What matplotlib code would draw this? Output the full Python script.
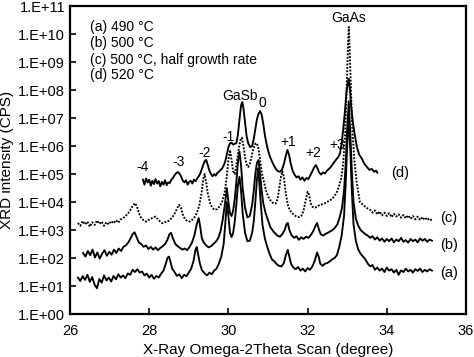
import matplotlib
matplotlib.use("Agg")
import math
import matplotlib.pyplot as plt
from matplotlib.ticker import FixedLocator, FuncFormatter

plt.rcParams['font.family'] = ['Liberation Sans', 'DejaVu Sans']

# scan angle (degree), log10 intensity (CPS)
curve_a = [
    (26.20, 1.30), (26.26, 1.18), (26.32, 1.35), (26.38, 1.22), (26.44, 1.40), (26.50, 1.15),
    (26.56, 1.32), (26.62, 1.05), (26.68, 0.92), (26.74, 1.25), (26.80, 1.12), (26.86, 1.38),
    (26.92, 1.20), (26.98, 1.30), (27.04, 1.16), (27.10, 1.36), (27.16, 1.24), (27.22, 1.42),
    (27.28, 1.30), (27.34, 1.38), (27.40, 1.28), (27.46, 1.45), (27.52, 1.40), (27.58, 1.58),
    (27.64, 1.50), (27.70, 1.60), (27.76, 1.48), (27.82, 1.52), (27.88, 1.38), (27.94, 1.44),
    (28.00, 1.30), (28.06, 1.40), (28.12, 1.26), (28.18, 1.36), (28.24, 1.30), (28.30, 1.44),
    (28.36, 1.55), (28.42, 1.80), (28.46, 2.00), (28.50, 2.05), (28.54, 1.85), (28.58, 1.62),
    (28.64, 1.50), (28.70, 1.36), (28.76, 1.42), (28.82, 1.28), (28.88, 1.40), (28.94, 1.35),
    (29.00, 1.48), (29.06, 1.62), (29.12, 1.90), (29.17, 2.30), (29.20, 2.39), (29.24, 2.10),
    (29.28, 1.80), (29.33, 1.57), (29.40, 1.45), (29.46, 1.38), (29.52, 1.48), (29.58, 1.42),
    (29.64, 1.55), (29.70, 1.62), (29.76, 1.80), (29.82, 2.05), (29.88, 2.50), (29.92, 3.20),
    (29.96, 4.00), (30.00, 3.50), (30.04, 2.90), (30.08, 2.75), (30.12, 2.90), (30.16, 3.30),
    (30.20, 3.90), (30.24, 4.60), (30.28, 4.90), (30.32, 4.40), (30.36, 3.60), (30.42, 2.90),
    (30.48, 2.60), (30.54, 2.62), (30.60, 2.90), (30.64, 3.30), (30.68, 4.00), (30.72, 4.80),
    (30.75, 5.20), (30.78, 4.70), (30.82, 3.90), (30.86, 3.20), (30.92, 2.70), (30.98, 2.40),
    (31.04, 2.15), (31.10, 1.95), (31.16, 1.88), (31.22, 1.78), (31.28, 1.72), (31.34, 1.70),
    (31.40, 1.82), (31.45, 2.10), (31.50, 2.29), (31.54, 2.05), (31.58, 1.80), (31.64, 1.66),
    (31.70, 1.60), (31.76, 1.68), (31.82, 1.55), (31.88, 1.62), (31.94, 1.52), (32.00, 1.64),
    (32.06, 1.58), (32.12, 1.70), (32.18, 1.90), (32.24, 2.20), (32.28, 2.05), (32.32, 1.80),
    (32.38, 1.72), (32.44, 1.80), (32.50, 1.82), (32.56, 1.88), (32.62, 1.95), (32.68, 2.00),
    (32.74, 2.10), (32.80, 2.40), (32.86, 2.80), (32.92, 3.50), (32.96, 4.60), (33.00, 6.00),
    (33.04, 7.00), (33.08, 5.80), (33.12, 4.30), (33.16, 3.20), (33.22, 2.60), (33.28, 2.30),
    (33.34, 2.15), (33.40, 2.05), (33.46, 1.95), (33.52, 1.80), (33.58, 1.70), (33.64, 1.75),
    (33.70, 1.58), (33.76, 1.66), (33.82, 1.55), (33.88, 1.62), (33.94, 1.50), (34.00, 1.66),
    (34.06, 1.55), (34.12, 1.60), (34.18, 1.48), (34.24, 1.58), (34.30, 1.40), (34.36, 1.56),
    (34.42, 1.50), (34.48, 1.62), (34.54, 1.52), (34.60, 1.58), (34.66, 1.48), (34.72, 1.60),
    (34.78, 1.54), (34.84, 1.62), (34.90, 1.50), (34.96, 1.58), (35.02, 1.52), (35.08, 1.60),
    (35.14, 1.55),
]

curve_b = [
    (26.33, 2.18), (26.39, 2.05), (26.45, 2.25), (26.51, 2.10), (26.57, 2.30), (26.63, 2.02),
    (26.69, 2.20), (26.75, 1.98), (26.81, 2.15), (26.87, 2.28), (26.93, 2.08), (26.99, 2.22),
    (27.05, 2.12), (27.11, 2.30), (27.17, 2.18), (27.23, 2.34), (27.29, 2.25), (27.35, 2.40),
    (27.41, 2.45), (27.47, 2.55), (27.53, 2.70), (27.58, 2.85), (27.63, 2.92), (27.68, 2.75),
    (27.74, 2.55), (27.80, 2.50), (27.86, 2.40), (27.92, 2.45), (27.98, 2.32), (28.04, 2.40),
    (28.10, 2.30), (28.16, 2.38), (28.22, 2.28), (28.28, 2.36), (28.34, 2.42), (28.40, 2.50),
    (28.46, 2.65), (28.51, 2.85), (28.55, 2.90), (28.60, 2.70), (28.66, 2.50), (28.72, 2.42),
    (28.78, 2.36), (28.84, 2.30), (28.90, 2.34), (28.96, 2.28), (29.02, 2.40), (29.08, 2.55),
    (29.14, 2.80), (29.20, 3.20), (29.25, 3.43), (29.29, 3.10), (29.33, 2.70), (29.38, 2.55),
    (29.44, 2.45), (29.50, 2.38), (29.56, 2.42), (29.62, 2.50), (29.68, 2.58), (29.74, 2.70),
    (29.80, 2.95), (29.86, 3.40), (29.91, 3.90), (29.96, 4.50), (30.00, 4.00), (30.04, 3.60),
    (30.08, 3.50), (30.12, 3.70), (30.16, 4.10), (30.20, 4.70), (30.24, 5.40), (30.28, 5.80),
    (30.32, 5.30), (30.36, 4.50), (30.42, 3.80), (30.48, 3.45), (30.54, 3.50), (30.60, 3.90),
    (30.64, 4.40), (30.68, 5.00), (30.72, 5.40), (30.76, 5.50), (30.80, 5.00), (30.84, 4.40),
    (30.88, 3.96), (30.94, 3.60), (31.00, 3.35), (31.06, 3.10), (31.12, 2.98), (31.18, 2.88),
    (31.24, 2.80), (31.30, 2.76), (31.36, 2.85), (31.42, 3.00), (31.47, 3.22), (31.50, 3.25),
    (31.54, 3.00), (31.60, 2.80), (31.66, 2.72), (31.72, 2.78), (31.78, 2.65), (31.84, 2.74),
    (31.90, 2.68), (31.96, 2.76), (32.02, 2.72), (32.08, 2.82), (32.14, 2.95), (32.20, 3.15),
    (32.24, 3.25), (32.28, 3.05), (32.33, 2.85), (32.39, 2.80), (32.45, 2.86), (32.51, 2.90),
    (32.57, 2.95), (32.63, 3.00), (32.69, 3.08), (32.75, 3.20), (32.81, 3.45), (32.87, 3.80),
    (32.92, 4.40), (32.96, 5.30), (33.00, 6.60), (33.04, 7.60), (33.08, 6.40), (33.12, 5.00),
    (33.16, 4.00), (33.22, 3.40), (33.28, 3.15), (33.34, 3.00), (33.40, 2.92), (33.46, 2.85),
    (33.52, 2.80), (33.58, 2.72), (33.64, 2.78), (33.70, 2.66), (33.76, 2.74), (33.82, 2.62),
    (33.88, 2.70), (33.94, 2.58), (34.00, 2.68), (34.06, 2.60), (34.12, 2.70), (34.18, 2.56),
    (34.24, 2.66), (34.30, 2.60), (34.36, 2.72), (34.42, 2.58), (34.48, 2.64), (34.54, 2.55),
    (34.60, 2.68), (34.66, 2.60), (34.72, 2.66), (34.78, 2.56), (34.84, 2.70), (34.90, 2.62),
    (34.96, 2.68), (35.02, 2.58), (35.08, 2.66), (35.14, 2.62),
]

curve_c = [
    (26.20, 3.25), (26.26, 3.15), (26.32, 3.32), (26.38, 3.20), (26.44, 3.30), (26.50, 3.12),
    (26.56, 3.28), (26.62, 3.18), (26.68, 3.34), (26.74, 3.22), (26.80, 3.30), (26.86, 3.15),
    (26.92, 3.28), (26.98, 3.20), (27.04, 3.32), (27.10, 3.24), (27.16, 3.35), (27.22, 3.26),
    (27.28, 3.38), (27.34, 3.42), (27.40, 3.50), (27.46, 3.58), (27.52, 3.70), (27.58, 3.85),
    (27.64, 3.96), (27.69, 3.85), (27.74, 3.60), (27.80, 3.42), (27.86, 3.35), (27.92, 3.30),
    (27.98, 3.36), (28.04, 3.40), (28.10, 3.45), (28.16, 3.48), (28.22, 3.38), (28.28, 3.30),
    (28.34, 3.24), (28.40, 3.28), (28.46, 3.30), (28.52, 3.36), (28.58, 3.45), (28.64, 3.58),
    (28.70, 3.75), (28.75, 3.90), (28.80, 3.80), (28.85, 3.55), (28.90, 3.40), (28.96, 3.32),
    (29.02, 3.30), (29.08, 3.36), (29.14, 3.45), (29.20, 3.60), (29.26, 3.85), (29.32, 4.30),
    (29.37, 4.85), (29.40, 5.00), (29.44, 4.70), (29.48, 4.30), (29.54, 3.95), (29.60, 3.78),
    (29.66, 3.72), (29.72, 3.75), (29.78, 3.85), (29.84, 4.00), (29.90, 4.30), (29.95, 4.80),
    (30.00, 5.50), (30.04, 5.86), (30.08, 5.50), (30.12, 5.10), (30.16, 5.00), (30.20, 5.30),
    (30.25, 5.80), (30.30, 6.20), (30.34, 6.30), (30.38, 6.00), (30.42, 5.60), (30.46, 5.35),
    (30.50, 5.25), (30.54, 5.35), (30.58, 5.60), (30.63, 5.90), (30.68, 6.08), (30.72, 6.10),
    (30.76, 5.90), (30.80, 5.50), (30.85, 5.00), (30.90, 4.70), (30.96, 4.35), (31.02, 4.15),
    (31.08, 4.02), (31.14, 3.95), (31.20, 3.95), (31.24, 4.10), (31.28, 4.45), (31.32, 4.85),
    (31.36, 5.10), (31.40, 4.90), (31.44, 4.40), (31.50, 3.90), (31.55, 3.71), (31.61, 3.60),
    (31.67, 3.52), (31.73, 3.48), (31.79, 3.46), (31.85, 3.52), (31.90, 3.70), (31.95, 4.05),
    (32.00, 4.36), (32.04, 4.25), (32.08, 3.95), (32.13, 3.82), (32.19, 3.80), (32.25, 3.85),
    (32.31, 3.90), (32.37, 3.92), (32.43, 3.95), (32.49, 4.00), (32.55, 4.05), (32.61, 4.10),
    (32.67, 4.20), (32.73, 4.32), (32.79, 4.55), (32.85, 4.85), (32.90, 5.40), (32.95, 6.50),
    (32.99, 8.20), (33.02, 9.60), (33.04, 10.25), (33.06, 9.60), (33.09, 8.20), (33.13, 6.60),
    (33.18, 5.50), (33.24, 4.70), (33.32, 4.00), (33.40, 3.90), (33.48, 3.80), (33.58, 3.72),
    (33.64, 3.62), (33.70, 3.70), (33.76, 3.56), (33.82, 3.66), (33.88, 3.52), (33.94, 3.62),
    (34.00, 3.50), (34.06, 3.60), (34.12, 3.46), (34.18, 3.58), (34.24, 3.48), (34.30, 3.56),
    (34.36, 3.44), (34.42, 3.54), (34.48, 3.42), (34.54, 3.52), (34.60, 3.40), (34.66, 3.50),
    (34.72, 3.38), (34.78, 3.48), (34.84, 3.36), (34.90, 3.46), (34.96, 3.36), (35.02, 3.44),
    (35.08, 3.34), (35.17, 3.40),
]

curve_d = [
    (27.84, 4.80), (27.88, 4.62), (27.92, 4.84), (27.96, 4.70), (28.00, 4.80), (28.04, 4.58),
    (28.08, 4.76), (28.12, 4.64), (28.16, 4.82), (28.20, 4.66), (28.24, 4.75), (28.28, 4.56),
    (28.32, 4.72), (28.36, 4.62), (28.40, 4.78), (28.44, 4.60), (28.48, 4.70), (28.52, 4.68),
    (28.56, 4.80), (28.60, 4.86), (28.64, 4.96), (28.69, 5.04), (28.73, 5.07), (28.77, 5.00),
    (28.81, 4.90), (28.85, 4.76), (28.89, 4.70), (28.93, 4.78), (28.97, 4.62), (29.01, 4.72),
    (29.05, 4.76), (29.09, 4.66), (29.13, 4.80), (29.17, 4.74), (29.21, 4.84), (29.25, 4.92),
    (29.29, 5.02), (29.33, 5.18), (29.37, 5.35), (29.41, 5.48), (29.44, 5.50), (29.48, 5.32),
    (29.52, 5.12), (29.56, 5.00), (29.60, 4.92), (29.64, 5.00), (29.68, 4.94), (29.72, 5.04),
    (29.76, 5.08), (29.80, 5.14), (29.84, 5.20), (29.88, 5.30), (29.92, 5.45), (29.96, 5.70),
    (30.00, 5.95), (30.04, 6.10), (30.08, 6.12), (30.12, 6.05), (30.16, 6.08), (30.20, 6.10),
    (30.24, 6.40), (30.28, 6.95), (30.32, 7.45), (30.35, 7.57), (30.38, 7.35), (30.42, 6.85),
    (30.46, 6.35), (30.50, 6.10), (30.55, 5.96), (30.60, 6.00), (30.64, 6.25), (30.68, 6.60),
    (30.72, 6.95), (30.76, 7.15), (30.80, 7.25), (30.84, 7.12), (30.88, 6.80), (30.92, 6.40),
    (30.96, 6.10), (31.00, 5.85), (31.05, 5.62), (31.10, 5.45), (31.15, 5.30), (31.20, 5.18),
    (31.25, 5.10), (31.30, 5.08), (31.35, 5.15), (31.40, 5.35), (31.45, 5.65), (31.49, 5.86),
    (31.53, 5.70), (31.57, 5.40), (31.62, 5.12), (31.67, 4.98), (31.72, 4.88), (31.77, 4.92),
    (31.82, 4.80), (31.87, 4.88), (31.92, 4.76), (31.97, 4.86), (32.02, 4.82), (32.07, 4.96),
    (32.12, 5.10), (32.17, 5.25), (32.21, 5.32), (32.25, 5.20), (32.29, 5.06), (32.34, 4.98),
    (32.39, 5.06), (32.44, 5.02), (32.49, 5.12), (32.54, 5.18), (32.59, 5.26), (32.64, 5.36),
    (32.69, 5.46), (32.74, 5.55), (32.78, 5.62), (32.82, 5.75), (32.86, 6.10), (32.90, 6.60),
    (32.94, 7.20), (32.98, 7.90), (33.02, 8.30), (33.04, 8.40), (33.07, 8.00), (33.10, 7.40),
    (33.14, 6.90), (33.18, 6.50), (33.24, 6.00), (33.30, 5.70), (33.37, 5.55), (33.44, 5.35),
    (33.50, 5.25), (33.56, 5.15), (33.62, 5.18), (33.68, 5.08), (33.73, 5.12), (33.76, 5.05),
]

peak_labels = ["-4", "-3", "-2", "-1", "GaSb", "0", "+1", "+2", "+3", "GaAs"]
peak_label_x = [27.82, 28.73, 29.41, 30.00, 30.29, 30.85, 31.50, 32.14, 32.74, 33.04]
peak_label_y = [5.25, 5.43, 5.75, 6.32, 7.79, 7.54, 6.14, 5.75, 6.04, 10.57]

curve_names = ["(a)", "(b)", "(c)", "(d)"]
curve_name_x = [35.57, 35.57, 35.57, 34.33]
curve_name_y = [1.46, 2.46, 3.43, 5.04]

legend_lines = ["(a) 490 \u00b0C", "(b) 500 \u00b0C",
                "(c) 500 \u00b0C, half growth rate", "(d) 520 \u00b0C"]

fig = plt.figure(figsize=(4.74, 3.57), dpi=100)
ax = fig.add_axes([0.1477, 0.1204, 0.8354, 0.8627])

styles = [(curve_a, "-"), (curve_b, "-"), (curve_c, (0, (1, 0.8))), (curve_d, "-")]
for data, ls in styles:
    xs = [p[0] for p in data]
    ys = [10 ** p[1] for p in data]
    ax.plot(xs, ys, color="black", linestyle=ls, linewidth=1.35)

ax.set_yscale("log")
ax.set_xlim(26, 36)
ax.set_ylim(1, 1e11)
ax.xaxis.set_major_locator(FixedLocator([26, 28, 30, 32, 34, 36]))
ax.yaxis.set_major_locator(FixedLocator([10 ** e for e in range(12)]))
ax.yaxis.set_minor_locator(FixedLocator([]))
ax.yaxis.set_major_formatter(FuncFormatter(lambda v, p: "1.E+%02d" % round(math.log10(v))))
ax.tick_params(direction="in", length=4, width=1.2, labelsize=10.5)
ax.tick_params(axis="x", pad=7)
for s in ax.spines.values():
    s.set_linewidth(1.6)

ax.set_xlabel("X-Ray Omega-2Theta Scan (degree)", fontsize=11, labelpad=4)
ax.set_ylabel("XRD intensity (CPS)", fontsize=11, labelpad=3)

for t, x, y in zip(peak_labels, peak_label_x, peak_label_y):
    ax.text(x, 10 ** y, t, ha="center", va="center", fontsize=10)
for t, x, y in zip(curve_names, curve_name_x, curve_name_y):
    ax.text(x, 10 ** y, t, ha="center", va="center", fontsize=10.5)

legend_y = [0.932, 0.880, 0.825, 0.776]
for t, y in zip(legend_lines, legend_y):
    ax.text(0.05, y, t, transform=ax.transAxes, ha="left", va="center", fontsize=10)

fig.savefig("out.png", dpi=100)
